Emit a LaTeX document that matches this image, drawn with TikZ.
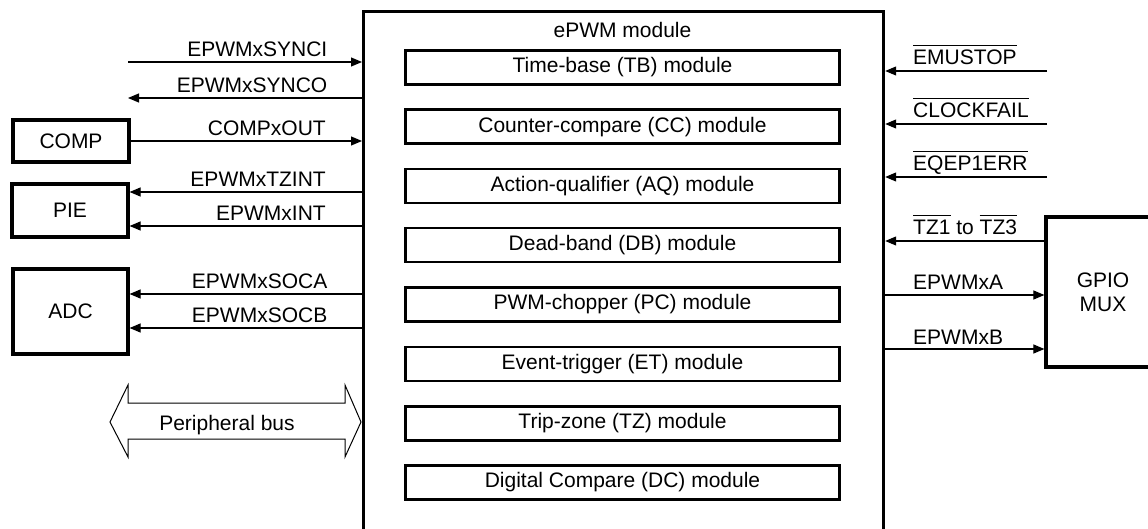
\documentclass[tikz,border=0pt]{standalone}
\usepackage{fontspec}
\setmainfont{Liberation Sans}
\usetikzlibrary{arrows.meta}
\newcommand{\olbar}[1]{\leavevmode\vbox{\hrule height 1pt\kern 4.5pt\hbox{#1}}}
\begin{document}
\begin{tikzpicture}[x=1pt,y=-1pt,
  every node/.style={font=\fontsize{21}{24}\selectfont},
  thickbox/.style={draw, line width=3.2pt, inner sep=0pt, align=center},
  modbox/.style={draw, line width=2.4pt, inner sep=0pt, minimum width=434pt, minimum height=34pt},
  sig/.style={line width=1.1pt, -{Triangle[length=11pt,width=9pt]}},
  lbl/.style={inner sep=0pt},
  busline/.style={line width=1pt, line join=miter}
]
\useasboundingbox (0,0) rectangle (1148,529);
\clip (0,0) rectangle (1148,529);

% main ePWM box (open at the bottom edge of the picture)
\node (main) [thickbox, anchor=north west, minimum width=520pt, minimum height=600pt] at (362,10) {};
\node (title) [lbl, anchor=base] at (622.5,38) {ePWM module};

% sub-modules
\node (tb) [modbox] at (622.5,67.5) {Time-base (TB) module};
\node (cc) [modbox] at (622.5,126.7) {Counter-compare (CC) module};
\node (aq) [modbox] at (622.5,185.9) {Action-qualifier (AQ) module};
\node (db) [modbox] at (622.5,245.1) {Dead-band (DB) module};
\node (pc) [modbox] at (622.5,304.5) {PWM-chopper (PC) module};
\node (et) [modbox] at (622.5,364) {Event-trigger (ET) module};
\node (tz) [modbox] at (622.5,423.3) {Trip-zone (TZ) module};
\node (dc) [modbox] at (622.5,482.5) {Digital Compare (DC) module};

% left blocks
\node (comp) [thickbox, minimum width=116pt, minimum height=42pt] at (71,141) {COMP};
\node (pie) [thickbox, minimum width=116pt, minimum height=53pt] at (70,210.5) {PIE};
\node (adc) [thickbox, minimum width=115pt, minimum height=85pt] at (70.5,311.5) {ADC};

% right block
\node (gpio) [thickbox, minimum width=114pt, minimum height=150pt] at (1103,292) {GPIO\\MUX};

% left signals
\coordinate (synciS) at (128,62);
\coordinate (syncoE) at (128,98);
\coordinate (tzintY) at (0,192);
\coordinate (intY) at (0,226);
\coordinate (socaY) at (0,294);
\coordinate (socbY) at (0,328);

\draw[sig] (synciS) -- (synciS -| main.west);
\draw[sig] (syncoE -| main.west) -- (syncoE);
\draw[sig] (comp.east) -- (comp.east -| main.west);
\draw[sig] (tzintY -| main.west) -- (tzintY -| pie.east);
\draw[sig] (intY -| main.west) -- (intY -| pie.east);
\draw[sig] (socaY -| main.west) -- (socaY -| adc.east);
\draw[sig] (socbY -| main.west) -- (socbY -| adc.east);

\node (lsynci) [lbl, anchor=base east] at (327.5,56.5) {EPWMxSYNCI};
\node (lsynco) [lbl, anchor=base east] at (327.5,92.5) {EPWMxSYNCO};
\node (lcomp)  [lbl, anchor=base east] at (326,136) {COMPxOUT};
\node (ltzint) [lbl, anchor=base east] at (326,186.5) {EPWMxTZINT};
\node (lint)   [lbl, anchor=base east] at (326,220.5) {EPWMxINT};
\node (lsoca)  [lbl, anchor=base east] at (327.5,288.5) {EPWMxSOCA};
\node (lsocb)  [lbl, anchor=base east] at (327.5,322.5) {EPWMxSOCB};

% peripheral bus
\draw[busline] (110,422) -- (128,385) -- (128,403) -- (345,403) -- (345,385)
  -- (361,422) -- (345,457) -- (345,439) -- (128,439) -- (128,457) -- cycle;
\node (bus) [lbl, anchor=base] at (227,430) {Peripheral bus};

% right signals
\coordinate (emuS) at (1047,71);
\coordinate (clkS) at (1047,124);
\coordinate (eqepS) at (1047,177);
\coordinate (tzY) at (0,241);
\coordinate (aY) at (0,295);
\coordinate (bY) at (0,349);

\draw[sig] (emuS) -- (emuS -| main.east);
\draw[sig] (clkS) -- (clkS -| main.east);
\draw[sig] (eqepS) -- (eqepS -| main.east);
\draw[sig] (tzY -| gpio.west) -- (tzY -| main.east);
\draw[sig] (aY -| main.east) -- (aY -| gpio.west);
\draw[sig] (bY -| main.east) -- (bY -| gpio.west);

\node (lemu)  [lbl, anchor=base west] at (913,65) {\olbar{EMUSTOP}};
\node (lclk)  [lbl, anchor=base west] at (913,118) {\olbar{CLOCKFAIL}};
\node (leqep) [lbl, anchor=base west] at (913,171) {\olbar{EQEP1ERR}};
\node (ltz)   [lbl, anchor=base west] at (913,235) {\olbar{TZ1} to \olbar{TZ3}};
\node (la)    [lbl, anchor=base west] at (913,290) {EPWMxA};
\node (lb)    [lbl, anchor=base west] at (913,344) {EPWMxB};
\end{tikzpicture}
\end{document}
